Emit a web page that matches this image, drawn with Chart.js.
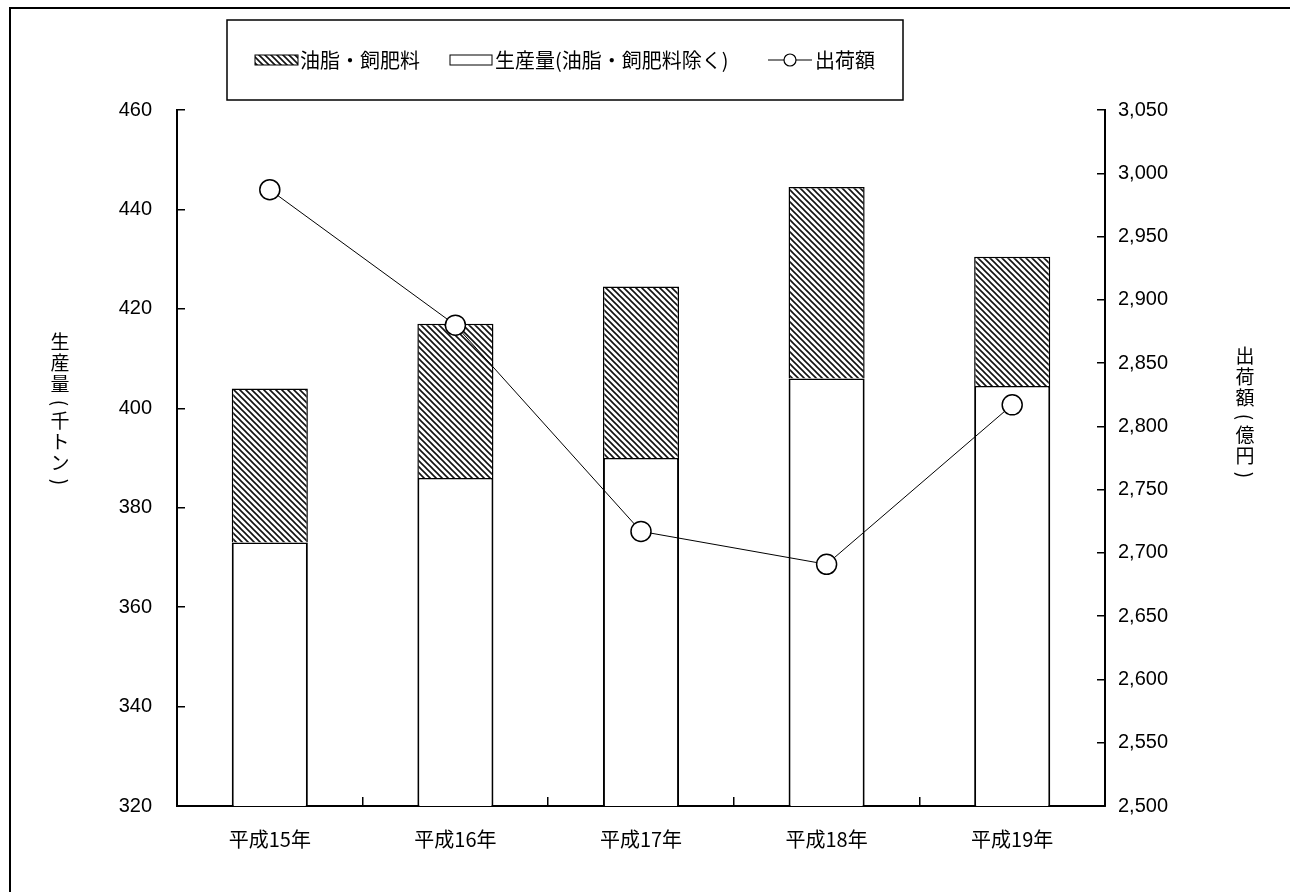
<!DOCTYPE html>
<html lang="ja">
<head>
<meta charset="utf-8">
<title>生産量と出荷額</title>
<script src="https://cdn.jsdelivr.net/npm/chart.js@4.4.0/dist/chart.umd.min.js"></script>
<style>
  html, body { margin: 0; padding: 0; background: #fff; }
  #wrap { position: relative; width: 1290px; height: 892px; }
</style>
</head>
<body>
<div id="wrap"><canvas id="chart"></canvas></div>
<script>
// ---- data ----
const categories = ['平成15年', '平成16年', '平成17年', '平成18年', '平成19年'];
const baseProduction = [373, 386, 390, 406, 404.5];   // 生産量(油脂・飼肥料除く) 千トン
const oilFeed = [31, 31, 34.5, 38.5, 26];             // 油脂・飼肥料 千トン
const shipments = [2987, 2880, 2717, 2691, 2817];     // 出荷額 億円
const leftRange = [320, 460];
const leftStep = 20;
const rightRange = [2500, 3050];
const rightStep = 50;

const FONT_JP = '"Noto Sans CJK JP", "Noto Sans", sans-serif';
const FONT_NUM = '"Liberation Sans", Arial, sans-serif';

// diagonal hatch for the 油脂・飼肥料 segment
function makeHatch() {
    const s = 6;
    const c = document.createElement('canvas');
    c.width = s; c.height = s;
    const g = c.getContext('2d');
    g.fillStyle = '#fff';
    g.fillRect(0, 0, s, s);
    g.strokeStyle = '#111';
    g.lineWidth = 1.6;
    g.beginPath();
    g.moveTo(-1, -1); g.lineTo(s + 1, s + 1);
    g.moveTo(s - 2, -2); g.lineTo(s + 2, 2);
    g.moveTo(-2, s - 2); g.lineTo(2, s + 2);
    g.stroke();
    return g.createPattern(c, 'repeat');
}
const hatch = makeHatch();

// page frame, boxed legend, vertical axis titles
const decorPlugin = {
    id: 'decor',
    afterDraw(chart) {
        const ctx = chart.ctx;
        const ds = chart.data.datasets;
        ctx.save();

        // frame of the scanned sheet
        ctx.strokeStyle = '#000';
        ctx.lineWidth = 2;
        ctx.beginPath();
        ctx.moveTo(10, 892); ctx.lineTo(10, 8); ctx.lineTo(1290, 8);
        ctx.stroke();

        // legend box
        ctx.lineWidth = 1.5;
        ctx.strokeRect(227, 20, 676, 80);
        ctx.font = '20px ' + FONT_JP;
        ctx.textBaseline = 'middle';
        ctx.textAlign = 'left';
        ctx.fillStyle = '#000';
        const ly = 60;

        // item 1: hatched
        ctx.fillStyle = hatch;
        ctx.fillRect(255, ly - 5, 43, 10);
        ctx.lineWidth = 1;
        ctx.strokeRect(255, ly - 5, 43, 10);
        ctx.fillStyle = '#000';
        ctx.fillText(ds[1].label, 300, ly);

        // item 2: white box
        ctx.fillStyle = '#fff';
        ctx.fillRect(450, ly - 5, 42, 10);
        ctx.strokeRect(450, ly - 5, 42, 10);
        ctx.fillStyle = '#000';
        ctx.fillText(ds[0].label, 495, ly);

        // item 3: line with circle
        ctx.lineWidth = 1.2;
        ctx.beginPath();
        ctx.moveTo(768, ly); ctx.lineTo(812, ly);
        ctx.stroke();
        ctx.beginPath();
        ctx.arc(790, ly, 6, 0, Math.PI * 2);
        ctx.fillStyle = '#fff';
        ctx.fill();
        ctx.stroke();
        ctx.fillStyle = '#000';
        ctx.fillText(ds[2].label, 815, ly);

        // vertical axis titles, one character per row
        const drawVertical = (text, x, yStart) => {
            let y = yStart;
            ctx.font = '19px ' + FONT_JP;
            ctx.textAlign = 'center';
            ctx.textBaseline = 'middle';
            for (const ch of text) {
                if (ch === '(' || ch === ')') {
                    ctx.save();
                    ctx.translate(x, y - 2);
                    ctx.rotate(Math.PI / 2);
                    ctx.fillText(ch, 0, 0);
                    ctx.restore();
                    y += 16;
                } else {
                    ctx.fillText(ch, x, y);
                    y += 21;
                }
            }
        };
        drawVertical(chart.options.scales.y.title.text, 60, 342);
        drawVertical(chart.options.scales.y1.title.text, 1245, 356);

        ctx.restore();
    }
};

const fmt = v => Number(v).toLocaleString('en-US');

new Chart(document.getElementById('chart'), {
    type: 'bar',
    data: {
        labels: categories,
        datasets: [
            {
                type: 'bar',
                label: '生産量(油脂・飼肥料除く)',
                data: baseProduction,
                backgroundColor: '#fff',
                borderColor: '#000',
                borderWidth: { top: 1.5, left: 2, right: 2, bottom: 0 },
                stack: 'prod',
                yAxisID: 'y',
                order: 2
            },
            {
                type: 'bar',
                label: '油脂・飼肥料',
                data: oilFeed,
                backgroundColor: hatch,
                borderColor: '#000',
                borderWidth: 1.5,
                stack: 'prod',
                yAxisID: 'y',
                order: 2
            },
            {
                type: 'line',
                label: '出荷額',
                data: shipments,
                yAxisID: 'y1',
                borderColor: '#000',
                borderWidth: 1,
                tension: 0,
                pointRadius: 10,
                pointBackgroundColor: '#fff',
                pointBorderColor: '#000',
                pointBorderWidth: 1.5,
                order: 0
            }
        ]
    },
    options: {
        responsive: true,
        maintainAspectRatio: false,
        animation: false,
        layout: { padding: { top: 110, left: 0, right: 0, bottom: 0 } },
        datasets: {
            bar: { barPercentage: 0.41, categoryPercentage: 1 }
        },
        plugins: {
            legend: { display: false },
            tooltip: { enabled: false }
        },
        scales: {
            x: {
                stacked: true,
                grid: { drawOnChartArea: false, offset: true, tickLength: -9, color: '#000', lineWidth: 1.5 },
                border: { color: '#000', width: 2 },
                ticks: { color: '#000', padding: 30, font: { family: FONT_JP, size: 20 } },
                afterFit(scale) { scale.height = 86; }
            },
            y: {
                position: 'left',
                stacked: true,
                min: leftRange[0],
                max: leftRange[1],
                grid: { drawOnChartArea: false, tickLength: -8, color: '#000', lineWidth: 1.5 },
                border: { color: '#000', width: 2 },
                title: { display: false, text: '生産量(千トン)' },
                ticks: {
                    stepSize: leftStep,
                    maxTicksLimit: 20,
                    color: '#000',
                    padding: 33,
                    font: { family: FONT_NUM, size: 20 }
                },
                afterFit(scale) { scale.width = 177; }
            },
            y1: {
                position: 'right',
                min: rightRange[0],
                max: rightRange[1],
                grid: { drawOnChartArea: false, tickLength: -8, color: '#000', lineWidth: 1.5 },
                border: { color: '#000', width: 2 },
                title: { display: false, text: '出荷額(億円)' },
                ticks: {
                    stepSize: rightStep,
                    maxTicksLimit: 20,
                    color: '#000',
                    padding: 21,
                    font: { family: FONT_NUM, size: 20 },
                    callback: v => fmt(v)
                },
                afterFit(scale) { scale.width = 185; }
            }
        }
    },
    plugins: [decorPlugin]
});
</script>
</body>
</html>
